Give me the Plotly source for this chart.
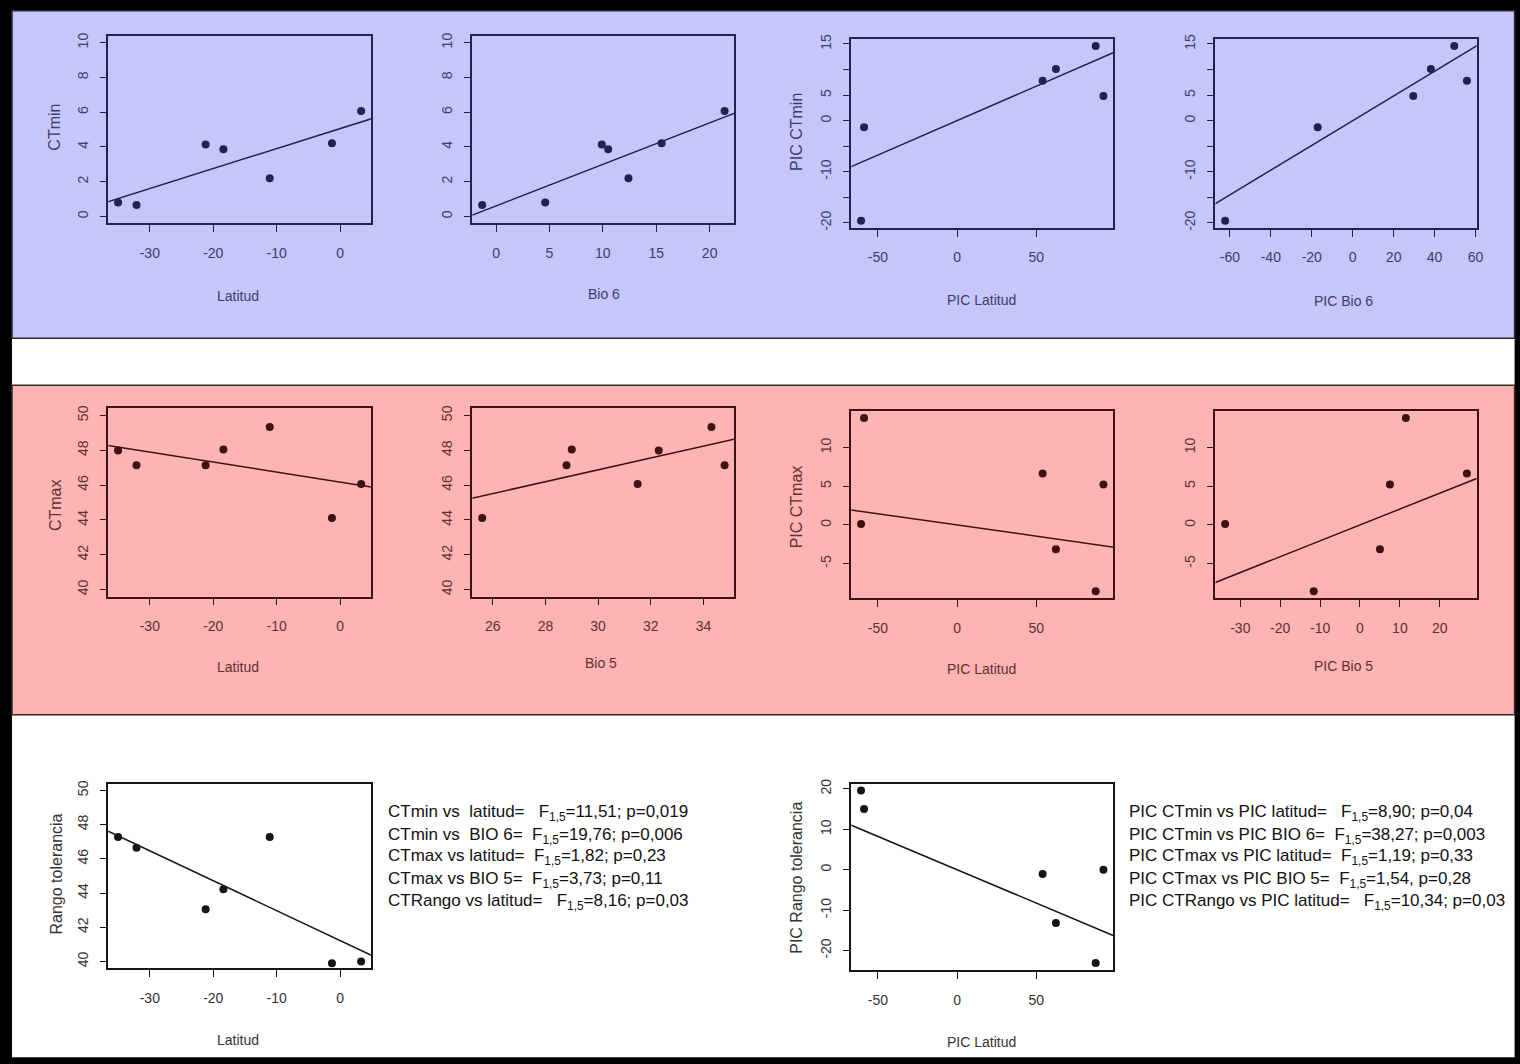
import plotly.graph_objects as go

W, H = 1520, 1064

# ---------------- data ----------------
latitud = [-35.0, -32.1, -21.2, -18.4, -11.1, -1.3, 3.3]
bio6 = [4.6, -1.3, 9.9, 10.5, 12.4, 15.5, 21.4]
bio5 = [32.3, 34.8, 28.8, 29.0, 34.3, 25.6, 31.5]
ctmin = [0.81, 0.66, 4.14, 3.87, 2.20, 4.22, 6.07]
ctmax = [47.99, 47.14, 47.14, 48.05, 49.33, 44.11, 46.07]
rango = [47.28, 46.65, 43.06, 44.23, 47.28, 39.90, 40.00]

pic_latitud = [-60.6, -58.7, 54.0, 62.4, 87.5, 92.4]
pic_bio6 = [-62.3, -17.1, 55.8, 38.2, 49.6, 29.6]
pic_bio5 = [-33.8, 11.5, 26.8, 5.0, -11.6, 7.5]
pic_ctmin = [-19.6, -1.3, 7.8, 10.1, 14.6, 4.8]
pic_ctmax = [0.13, 13.8, 6.64, -3.13, -8.57, 5.23]
pic_rango = [19.6, 15.0, -1.07, -13.2, -23.1, 0.0]

# fitted regression lines (intercept, slope)
fit_ctmin_lat = (5.06, 0.115)
fit_ctmin_bio6 = (0.61, 0.239)
fit_pic_ctmin_lat = (0.0, 0.135)
fit_pic_ctmin_bio6 = (0.0, 0.242)
fit_ctmax_lat = (46.17, -0.0576)
fit_ctmax_bio5 = (36.65, 0.341)
fit_pic_ctmax_lat = (0.0, -0.029)
fit_pic_ctmax_bio5 = (0.0, 0.205)
fit_rango_lat = (41.22, -0.175)
fit_pic_rango_lat = (0.0, -0.165)

# tick values / labels
xt_lat = [-30, -20, -10, 0]
xt_bio6 = [0, 5, 10, 15, 20]
xt_piclat = [-50, 0, 50]
xt_picbio6 = [-60, -40, -20, 0, 20, 40, 60]
xt_bio5 = [26, 28, 30, 32, 34]
xt_picbio5 = [-30, -20, -10, 0, 10, 20]
yt_ct = [0, 2, 4, 6, 8, 10]
yt_4050 = [40, 42, 44, 46, 48, 50]
yt_pic_ctmin = [-20, -15, -10, -5, 0, 5, 10, 15]
yl_pic_ctmin = ["-20", "", "-10", "", "0", "5", "", "15"]
yt_pic_ctmax = [-5, 0, 5, 10]
yt_pic_rango = [-20, -10, 0, 10, 20]

stats_left = [
    "CTmin vs \u00a0latitud= \u00a0\u00a0F<sub>1,5</sub>=11,51; p=0,019",
    "CTmin vs \u00a0BIO 6= \u00a0F<sub>1,5</sub>=19,76; p=0,006",
    "CTmax vs latitud= \u00a0F<sub>1,5</sub>=1,82; p=0,23",
    "CTmax vs BIO 5= \u00a0F<sub>1,5</sub>=3,73; p=0,11",
    "CTRango vs latitud= \u00a0\u00a0F<sub>1,5</sub>=8,16; p=0,03",
]
stats_right = [
    "PIC CTmin vs PIC latitud= \u00a0\u00a0F<sub>1,5</sub>=8,90; p=0,04",
    "PIC CTmin vs PIC BIO 6= \u00a0F<sub>1,5</sub>=38,27; p=0,003",
    "PIC CTmax vs PIC latitud= \u00a0F<sub>1,5</sub>=1,19; p=0,33",
    "PIC CTmax vs PIC BIO 5= \u00a0F<sub>1,5</sub>=1,54, p=0,28",
    "PIC CTRango vs PIC latitud= \u00a0\u00a0F<sub>1,5</sub>=10,34; p=0,03",
]

# ---------------- styling ----------------
FONT = "Liberation Sans, Arial, sans-serif"
BLUE_BG = "#C6C6FA"
RED_BG = "#FFB4B4"
STY = {
    "blue": dict(line="#22224e", text="#3d3d6e"),
    "red": dict(line="#3c1212", text="#5e3030"),
    "white": dict(line="#151515", text="#333333"),
}


def fx(px):
    return (px / 0.995) / W


def fy(py):
    return 1 - ((py - 4.2) / 0.994) / H


def rrange(v):
    lo, hi = min(v), max(v)
    d = (hi - lo) * 0.04
    return [lo - d, hi + d]


panels = [
    dict(x=latitud, y=ctmin, fit=fit_ctmin_lat, xr=rrange(latitud), yr=rrange([0, 10]),
         xt=xt_lat, yt=yt_ct, yl=None, box=(108.3, 35, 370.7, 223), band="blue",
         xtitle=("Latitud", 238, 296), ytitle=("CTmin", 55, 127)),
    dict(x=bio6, y=ctmin, fit=fit_ctmin_bio6, xr=rrange(bio6), yr=rrange([0, 10]),
         xt=xt_bio6, yt=yt_ct, yl=None, box=(472.3, 35, 734, 223), band="blue",
         xtitle=("Bio 6", 604, 294), ytitle=None),
    dict(x=pic_latitud, y=pic_ctmin, fit=fit_pic_ctmin_lat, xr=rrange(pic_latitud), yr=rrange(pic_ctmin),
         xt=xt_piclat, yt=yt_pic_ctmin, yl=yl_pic_ctmin, box=(851, 38.3, 1112.7, 227.3), band="blue",
         xtitle=("PIC Latitud", 981, 300), ytitle=("PIC CTmin", 796, 131)),
    dict(x=pic_bio6, y=pic_ctmin, fit=fit_pic_ctmin_bio6, xr=rrange(pic_bio6), yr=rrange(pic_ctmin),
         xt=xt_picbio6, yt=yt_pic_ctmin, yl=yl_pic_ctmin, box=(1215, 38.3, 1476, 227.3), band="blue",
         xtitle=("PIC Bio 6", 1343, 301), ytitle=None),
    dict(x=latitud, y=ctmax, fit=fit_ctmax_lat, xr=rrange(latitud), yr=rrange([40, 50]),
         xt=xt_lat, yt=yt_4050, yl=None, box=(108.3, 408.3, 370.7, 596.7), band="red",
         xtitle=("Latitud", 238, 667), ytitle=("CTmax", 55, 505)),
    dict(x=bio5, y=ctmax, fit=fit_ctmax_bio5, xr=rrange(bio5), yr=rrange([40, 50]),
         xt=xt_bio5, yt=yt_4050, yl=None, box=(472.3, 408.3, 734, 596.7), band="red",
         xtitle=("Bio 5", 601, 663), ytitle=None),
    dict(x=pic_latitud, y=pic_ctmax, fit=fit_pic_ctmax_lat, xr=rrange(pic_latitud), yr=rrange(pic_ctmax),
         xt=xt_piclat, yt=yt_pic_ctmax, yl=None, box=(851, 411, 1112.7, 598.3), band="red",
         xtitle=("PIC Latitud", 981, 669), ytitle=("PIC CTmax", 796, 507)),
    dict(x=pic_bio5, y=pic_ctmax, fit=fit_pic_ctmax_bio5, xr=rrange(pic_bio5), yr=rrange(pic_ctmax),
         xt=xt_picbio5, yt=yt_pic_ctmax, yl=None, box=(1215, 411, 1476, 598.3), band="red",
         xtitle=("PIC Bio 5", 1343, 666), ytitle=None),
    dict(x=latitud, y=rango, fit=fit_rango_lat, xr=rrange(latitud), yr=rrange([40, 50]),
         xt=xt_lat, yt=yt_4050, yl=None, box=(108.3, 784, 370.7, 969), band="white",
         xtitle=("Latitud", 238, 1041), ytitle=("Rango tolerancia", 56, 875)),
    dict(x=pic_latitud, y=pic_rango, fit=fit_pic_rango_lat, xr=rrange(pic_latitud), yr=rrange(pic_rango),
         xt=xt_piclat, yt=yt_pic_rango, yl=None, box=(851, 784, 1112.7, 970.7), band="white",
         xtitle=("PIC Latitud", 981, 1043), ytitle=("PIC Rango tolerancia", 796, 878)),
]

fig = go.Figure()
layout = dict(
    autosize=True, margin=dict(l=0, r=0, t=0, b=0, pad=0),
    paper_bgcolor="#000000", plot_bgcolor="rgba(0,0,0,0)", showlegend=False,
)
annotations = []
shapes = [
    dict(type="rect", xref="paper", yref="paper", x0=fx(12), x1=fx(1514), y0=fy(1058), y1=fy(10),
         fillcolor="#FFFFFF", line=dict(width=0), layer="below"),
    dict(type="rect", xref="paper", yref="paper", x0=fx(12), x1=fx(1514), y0=fy(338), y1=fy(10),
         fillcolor=BLUE_BG, line=dict(color="#2a2a3a", width=1.5), layer="below"),
    dict(type="rect", xref="paper", yref="paper", x0=fx(12), x1=fx(1514), y0=fy(715), y1=fy(385),
         fillcolor=RED_BG, line=dict(color="#3a2a2a", width=1.5), layer="below"),
]

for i, p in enumerate(panels, start=1):
    sfx = "" if i == 1 else str(i)
    st = STY[p["band"]]
    x0, y0, x1, y1 = p["box"]
    a, b = p["fit"]
    lx = [p["xr"][0] - 1e3, p["xr"][1] + 1e3]
    fig.add_trace(go.Scatter(x=lx, y=[a + b * v for v in lx], mode="lines",
                             line=dict(color=st["line"], width=1.5),
                             xaxis="x" + sfx, yaxis="y" + sfx, hoverinfo="skip"))
    fig.add_trace(go.Scatter(x=p["x"], y=p["y"], mode="markers",
                             marker=dict(color=st["line"], size=8, line=dict(width=0)),
                             xaxis="x" + sfx, yaxis="y" + sfx))
    common = dict(showline=True, mirror=True, linecolor=st["line"], linewidth=1.5,
                  ticks="outside", ticklen=7, tickcolor=st["line"], tickwidth=1.2,
                  showgrid=False, zeroline=False, fixedrange=True)
    layout["xaxis" + sfx] = dict(common, domain=[fx(x0), fx(x1)], anchor="y" + sfx, range=p["xr"],
                                 tickmode="array", tickvals=p["xt"], ticktext=[str(v) for v in p["xt"]],
                                 tickfont=dict(family=FONT, size=14, color=st["text"]),
                                 ticklabelstandoff=9)
    yl = p["yl"] if p["yl"] is not None else [str(v) for v in p["yt"]]
    layout["yaxis" + sfx] = dict(common, domain=[fy(y1), fy(y0)], anchor="x" + sfx, range=p["yr"],
                                 tickmode="array", tickvals=p["yt"], ticktext=yl, tickangle=-90,
                                 tickfont=dict(family=FONT, size=14, color=st["text"]),
                                 ticklabelstandoff=6)
    t, tx, ty = p["xtitle"]
    annotations.append(dict(text=t, xref="paper", yref="paper", x=fx(tx), y=fy(ty),
                            xanchor="center", yanchor="middle", showarrow=False,
                            font=dict(family=FONT, size=14, color=st["text"])))
    if p["ytitle"]:
        t, tx, ty = p["ytitle"]
        annotations.append(dict(text=t, xref="paper", yref="paper", x=fx(tx), y=fy(ty),
                                xanchor="center", yanchor="middle", showarrow=False, textangle=-90,
                                font=dict(family=FONT, size=16, color=st["text"])))

line_y = [813, 836, 858, 881, 903]
for txt, ly in zip(stats_left, line_y):
    annotations.append(dict(text=txt, xref="paper", yref="paper", x=fx(386), y=fy(ly),
                            xanchor="left", yanchor="middle", showarrow=False,
                            font=dict(family=FONT, size=17, color="#111111")))
for txt, ly in zip(stats_right, line_y):
    annotations.append(dict(text=txt, xref="paper", yref="paper", x=fx(1127), y=fy(ly),
                            xanchor="left", yanchor="middle", showarrow=False,
                            font=dict(family=FONT, size=17, color="#111111")))

layout["annotations"] = annotations
layout["shapes"] = shapes
fig.update_layout(**layout)

post = (
    "document.documentElement.style.margin='0';document.documentElement.style.padding='0';"
    "document.documentElement.style.overflow='hidden';"
    "document.body.style.margin='0';document.body.style.padding='0';document.body.style.overflow='hidden';"
    "var gd=document.getElementById('{plot_id}');"
    "gd.style.width='100vw';gd.style.height='100vh';"
    "Plotly.Plots.resize(gd);"
)
fig.write_html("out.html", include_plotlyjs=True,
               config={"displayModeBar": False, "responsive": True},
               default_width="100vw", default_height="100vh",
               post_script=post)
